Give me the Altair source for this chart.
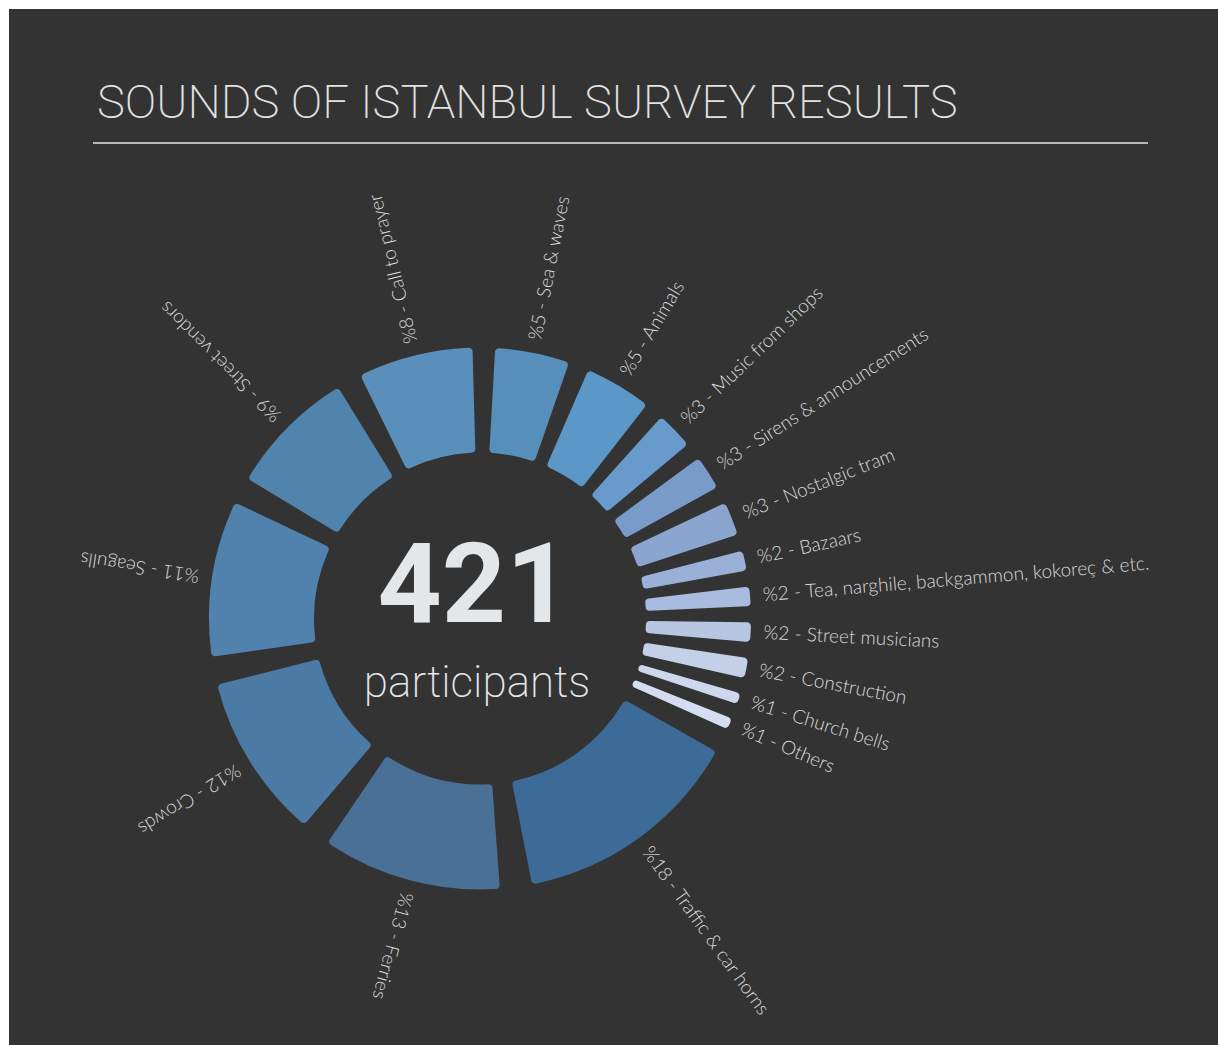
import math
import altair as alt
import pandas as pd

# ---- data ----
categories = [
    "Sea & waves", "Animals", "Music from shops", "Sirens & announcements",
    "Nostalgic tram", "Bazaars", "Tea, narghile, backgammon, kokoreç & etc.",
    "Street musicians", "Construction", "Church bells", "Others",
    "Traffic & car horns", "Ferries", "Crowds", "Seagulls", "Street vendors",
    "Call to prayer",
]
percent = [5, 5, 3, 3, 3, 2, 2, 2, 2, 1, 1, 18, 13, 12, 11, 9, 8]
# angular share of each slice as drawn in the picture (degrees of the circle)
arc_deg = [20.4, 18.7, 11.8, 11.0, 10.9, 7.7, 7.6, 7.6, 7.7, 5.6, 5.7,
           56.9, 44.8, 41.5, 39.4, 32.9, 29.8]
colors = [
    "#578fbb", "#5b98c8", "#689acc", "#789bca", "#8aa6d0", "#9ab0d6",
    "#a9bcdf", "#b6c6e3", "#c3d0e8", "#cdd8ec", "#d5def0",
    "#3d6b98", "#4a7096", "#4b7ba5", "#5181ad", "#5184ad", "#5a8fbb",
]
title_text = ["SOUNDS OF ISTANBUL SURVEY RESULTS"]
total_text = ["421"]
sub_text = ["participants"]

df = pd.DataFrame({
    "order": list(range(len(categories))),
    "category": categories,
    "percent": percent,
    "arc_deg": arc_deg,
    "color": colors,
})

START = 1  # rotation of the first slice (degrees)
CX, CY = 471, 609.5
theta_scale = alt.Scale(domain=[0, 360], range=[0, 2 * math.pi])

base = (
    alt.Chart(df)
    .transform_window(cum="sum(arc_deg)", sort=[alt.SortField("order")], frame=[None, 0])
    .transform_calculate(start=f"datum.cum - datum.arc_deg + {START}")
    .transform_calculate(end=f"datum.cum + {START}")
    .transform_calculate(gap="2.8 + 0.08 * datum.arc_deg")
    .transform_calculate(a0="datum.start + datum.gap / 2")
    .transform_calculate(a1="datum.end - datum.gap / 2")
    .transform_calculate(mid="(datum.start + datum.end) / 2")
    .transform_calculate(rot="(datum.mid + 270) % 360")
    .transform_calculate(label="'%' + datum.percent + ' - ' + datum.category")
)

arcs = base.mark_arc(innerRadius=166, outerRadius=271, cornerRadius=4).encode(
    theta=alt.Theta("a0:Q", scale=theta_scale, stack=None),
    theta2="a1:Q",
    color=alt.Color("color:N", scale=None),
    x=alt.value(CX),
    y=alt.value(CY),
)

labels = base.mark_text(
    radius=284, align="left", baseline="middle",
    font="Lato, 'Open Sans', sans-serif", fontWeight=300,
    fontSize=19, color="#dadada",
).encode(
    theta=alt.Theta("mid:Q", scale=theta_scale, stack=None),
    angle=alt.Angle("rot:Q", scale=None),
    text="label:N",
    x=alt.value(CX),
    y=alt.value(CY),
)

title = alt.Chart(pd.DataFrame({"t": title_text})).mark_text(
    align="left", baseline="alphabetic", font="Roboto", fontWeight=200,
    fontSize=47, color="#e2e2e2",
).encode(text="t:N", x=alt.value(88), y=alt.value(109))

rule = alt.Chart(pd.DataFrame({"t": title_text})).mark_rule(
    color="#b8b8b8", strokeWidth=2
).encode(x=alt.value(84), x2=alt.value(1139), y=alt.value(134))

num = alt.Chart(pd.DataFrame({"t": total_text})).mark_text(
    align="center", baseline="alphabetic",
    font="Roboto, sans-serif", fontWeight="bold",
    fontSize=112, color="#e4e7ea",
).encode(text="t:N", x=alt.value(465), y=alt.value(613))

sub = alt.Chart(pd.DataFrame({"t": sub_text})).mark_text(
    align="center", baseline="alphabetic", font="Roboto", fontWeight=200,
    fontSize=44, color="#e4e7ea",
).encode(text="t:N", x=alt.value(468), y=alt.value(688))

chart = (
    alt.layer(title, rule, arcs, labels, num, sub)
    .properties(
        width=1209, height=1036, background="white",
        padding={"left": 9, "top": 9, "right": 0, "bottom": 0},
        autosize=alt.AutoSizeParams(type="none"),
    )
    .configure_view(fill="#333333", stroke=None)
)

chart.save("out.html", embed_options={"renderer": "svg", "actions": False})
